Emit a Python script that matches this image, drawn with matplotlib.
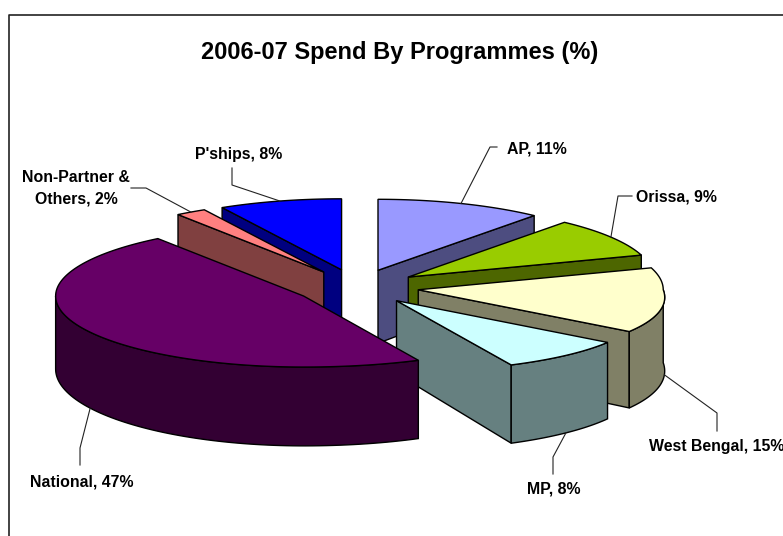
import numpy as np
import matplotlib
matplotlib.use("Agg")
import matplotlib.pyplot as plt
from matplotlib.patches import Polygon

title = "2006-07 Spend By Programmes (%)"
programmes = ["AP", "Orissa", "West Bengal", "MP", "National", "Non-Partner &\nOthers", "P'ships"]
spend = [11, 9, 15, 8, 47, 2, 8]
colors = ["#9999ff", "#99cc00", "#ffffcc", "#ccffff", "#660066", "#ff8080", "#0000ff"]

# pie layout in pixels
cx, cy = 357, 287
rx_left, rx_right, ry = 248, 245, 71
depth = 73
explode = 0.25
persp = 0.11
draw_order = [0, 1, 2, 3, 6, 5, 4]

# leader elbows and label spots, same order as programmes
elbows = [[(490, 147), (497, 147)], [(618, 196), (632, 196)], [(717, 413), (717, 431)],
          [(553, 457), (553, 474)], [(80, 448), (80, 465)], [(146, 188), (131, 188)], [(232, 185), (232, 168)]]
label_pos = [(507, 149, "left"), (636, 197, "left"), (649, 447, "left"), (554, 489, "center"),
             (82, 482, "center"), (76, 188, "center"), (239, 154, "center")]

fig = plt.figure(figsize=(7.83, 5.36), dpi=100)
ax = fig.add_axes([0, 0, 1, 1])
ax.set_xlim(0, 783)
ax.set_ylim(536, 0)
ax.axis("off")

plt.rcParams["font.family"] = ["Liberation Sans", "DejaVu Sans"]


def rim(ax0, ay0, deg, down=False):
    t = np.radians(deg)
    v = -np.cos(t)
    s = np.sin(t)
    if s > 0:
        x = ax0 + rx_right * s * (1 + persp * max(v, 0))
    else:
        x = ax0 + rx_left * s
    y = ay0 + ry * v
    if down:
        y = y + depth * (1 + 0.08 * v)
    return x, y


def draw_slice(i, a0, a1):
    mid = np.radians((a0 + a1) / 2)
    ax0 = cx + explode * rx_left * np.sin(mid)
    ay0 = cy - explode * ry * np.cos(mid)
    top = np.array(colors_rgb[i])
    side = top * 0.5
    # only the cut faces turned towards the viewer
    for a, visible in ((a0, np.sin(np.radians(a0)) < -1e-6), (a1, np.sin(np.radians(a1)) > 1e-6)):
        if not visible:
            continue
        face = [(ax0, ay0), rim(ax0, ay0, a), rim(ax0, ay0, a, True), (ax0, ay0 + depth)]
        ax.add_patch(Polygon(face, closed=True, fc=side, ec="black", lw=1.0, joinstyle="round"))
    lo, hi = max(a0, 90), min(a1, 270)
    if hi > lo:
        angs = np.linspace(lo, hi, 80)
        wall = [rim(ax0, ay0, a) for a in angs] + [rim(ax0, ay0, a, True) for a in angs[::-1]]
        ax.add_patch(Polygon(wall, closed=True, fc=side, ec="black", lw=1.0))
    angs = np.linspace(a0, a1, 120)
    outline = [(ax0, ay0)] + [rim(ax0, ay0, a) for a in angs]
    ax.add_patch(Polygon(outline, closed=True, fc=top, ec="black", lw=1.0))
    return ax0, ay0


colors_rgb = [matplotlib.colors.to_rgb(c) for c in colors]
edges = np.concatenate([[0], np.cumsum(spend)]) * 360.0 / sum(spend)

for i in draw_order:
    a0, a1 = edges[i], edges[i + 1]
    ax0, ay0 = draw_slice(i, a0, a1)
    mid = (a0 + a1) / 2
    # front slices have their leader on the lower rim
    start = rim(ax0, ay0, mid, 90 < mid < 270)
    pts = [start] + elbows[i]
    ax.plot([p[0] for p in pts], [p[1] for p in pts], color="#222222", lw=0.8)

for name, val, (x, y, ha) in zip(programmes, spend, label_pos):
    ax.text(x, y, f"{name}, {val}%", ha=ha, va="center", fontsize=11.4, fontweight="bold",
            color="black", linespacing=1.55, family=["Liberation Sans", "DejaVu Sans"])

ax.text(400, 53, title, ha="center", va="center", fontsize=17, fontweight="bold",
        color="black", family=["Liberation Sans", "DejaVu Sans"])

# chart area border, runs off the right and bottom of the picture
ax.plot([8.5, 8.5, 800], [560, 14.5, 14.5], color="#222222", lw=1.2, clip_on=True)

fig.savefig("out.png", dpi=100)
